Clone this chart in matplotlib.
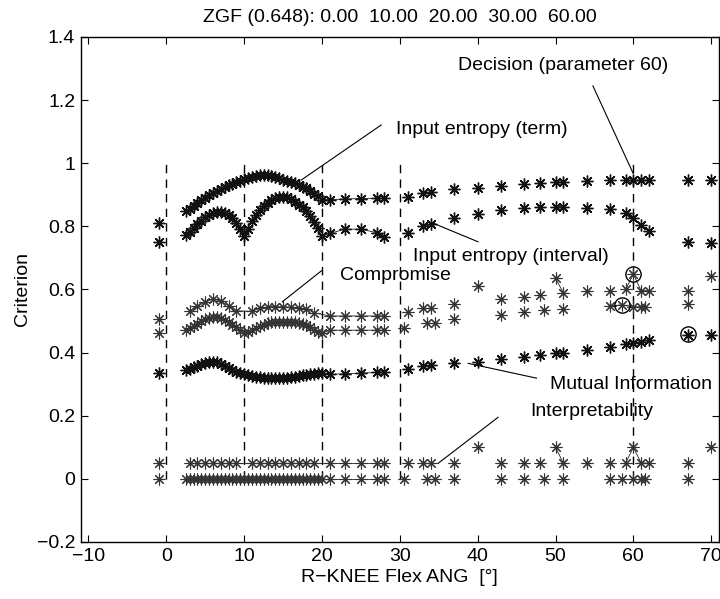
import matplotlib
matplotlib.use("Agg")
import matplotlib.pyplot as plt
import numpy as np

plt.rcParams['font.family'] = ['Liberation Sans', 'DejaVu Sans']
plt.rcParams['font.size'] = 14

# ---------------- data ----------------
title_text = "ZGF (0.648): 0.00  10.00  20.00  30.00  60.00"
x_label = "R\u2212KNEE Flex ANG  [\u00b0]"
y_label = "Criterion"
x_ticks = [-10, 0, 10, 20, 30, 40, 50, 60, 70]
y_ticks = [-0.2, 0, 0.2, 0.4, 0.6, 0.8, 1.0, 1.2, 1.4]
y_tick_labels = ["\u22120.2", "0", "0.2", "0.4", "0.6", "0.8", "1", "1.2", "1.4"]
zgf_positions = [0, 10, 20, 30, 60]

# dense grid (both models) left part
x_dense = [-1, 2.5, 3, 3.5, 4, 4.5, 5, 5.5, 6, 6.5, 7, 7.5, 8, 8.5, 9, 9.5, 10,
           10.5, 11, 11.5, 12, 12.5, 13, 13.5, 14, 14.5, 15, 15.5, 16, 16.5, 17,
           17.5, 18, 18.5, 19, 19.5, 20, 21, 23, 25, 27, 28]
# model A grid
x_a = [-1, 3, 4, 5, 6, 7, 8, 9, 11, 12, 13, 14, 15, 16, 17, 18, 19, 21, 23, 25, 27, 28,
       31, 33, 34, 37, 40, 43, 46, 48, 50, 51, 54, 57, 59, 60, 61, 62, 67, 70]
# model B sparse grid
x_b_sparse = [30.5, 33.5, 34.5, 37, 43, 46, 48.5, 51, 57, 58.5, 60, 61, 61.5, 67]
x_sparse = [31, 33, 34, 37, 40, 43, 46, 48, 50, 51, 54, 57, 59, 60, 61, 62, 67, 70]

entropy_term_dense = [0.812, 0.850, 0.856, 0.864, 0.873, 0.882, 0.891, 0.899, 0.906, 0.912,
                      0.918, 0.924, 0.930, 0.935, 0.940, 0.945, 0.949, 0.953, 0.957, 0.960,
                      0.962, 0.963, 0.962, 0.959, 0.956, 0.952, 0.948, 0.944, 0.940, 0.936,
                      0.932, 0.926, 0.920, 0.912, 0.904, 0.895, 0.885, 0.884, 0.887, 0.888,
                      0.889, 0.889]
entropy_term_sparse = [0.894, 0.905, 0.908, 0.917, 0.921, 0.928, 0.934, 0.938, 0.941, 0.941,
                       0.945, 0.947, 0.947, 0.947, 0.947, 0.947, 0.947, 0.947]

entropy_interval_dense = [0.749, 0.773, 0.782, 0.795, 0.806, 0.818, 0.829, 0.837, 0.842, 0.845,
                          0.845, 0.842, 0.836, 0.826, 0.812, 0.793, 0.768, 0.793, 0.817, 0.836,
                          0.852, 0.865, 0.875, 0.884, 0.890, 0.893, 0.894, 0.892, 0.886, 0.878,
                          0.868, 0.860, 0.850, 0.834, 0.815, 0.795, 0.768, 0.778, 0.791, 0.791,
                          0.780, 0.767]
entropy_interval_sparse = [0.778, 0.800, 0.806, 0.826, 0.839, 0.852, 0.859, 0.860, 0.862, 0.860,
                           0.857, 0.854, 0.841, 0.826, 0.804, 0.786, 0.751, 0.748]

compromise_a = [0.508, 0.532, 0.547, 0.560, 0.570, 0.563, 0.549, 0.532, 0.531, 0.540, 0.545,
                0.546, 0.545, 0.544, 0.542, 0.538, 0.526, 0.516, 0.516, 0.516, 0.516, 0.516,
                0.530, 0.540, 0.540, 0.554, 0.611, 0.569, 0.575, 0.582, 0.635, 0.590, 0.596,
                0.596, 0.600, 0.648, 0.596, 0.596, 0.596, 0.643]
compromise_b_dense = [0.461, 0.471, 0.478, 0.485, 0.492, 0.499, 0.505, 0.510, 0.513, 0.513,
                      0.510, 0.504, 0.497, 0.489, 0.480, 0.471, 0.462, 0.466, 0.472, 0.478,
                      0.484, 0.489, 0.493, 0.496, 0.498, 0.498, 0.498, 0.498, 0.497, 0.496,
                      0.494, 0.491, 0.487, 0.480, 0.472, 0.466, 0.461, 0.471, 0.471, 0.471,
                      0.471, 0.471]
compromise_b_sparse = [0.477, 0.495, 0.495, 0.505, 0.519, 0.530, 0.535, 0.537, 0.548, 0.551,
                       0.545, 0.545, 0.545, 0.554]

mutual_info_dense = [0.334, 0.345, 0.348, 0.353, 0.358, 0.363, 0.367, 0.370, 0.371, 0.369,
                     0.364, 0.357, 0.350, 0.344, 0.339, 0.335, 0.331, 0.328, 0.325, 0.323,
                     0.322, 0.321, 0.320, 0.320, 0.320, 0.320, 0.320, 0.321, 0.322, 0.324,
                     0.326, 0.328, 0.330, 0.332, 0.333, 0.334, 0.334, 0.331, 0.333, 0.335,
                     0.337, 0.339]
mutual_info_sparse = [0.347, 0.356, 0.360, 0.366, 0.371, 0.379, 0.385, 0.392, 0.398, 0.400,
                      0.408, 0.419, 0.427, 0.431, 0.434, 0.440, 0.456, 0.456]

interpretability_a = [0.05, 0.05, 0.05, 0.05, 0.05, 0.05, 0.05, 0.05, 0.05, 0.05, 0.05,
                      0.05, 0.05, 0.05, 0.05, 0.05, 0.05, 0.05, 0.05, 0.05, 0.05, 0.05,
                      0.05, 0.05, 0.05, 0.05, 0.10, 0.05, 0.05, 0.05, 0.10, 0.05, 0.05,
                      0.05, 0.05, 0.10, 0.05, 0.05, 0.05, 0.10]
interpretability_b_dense = [0.0] * 42
interpretability_b_sparse = [0.0] * 14

# selected (circled) points
circled_x = [60, 58.5, 67]
circled_y = [0.648, 0.551, 0.458]

# annotations: (text, text x, text y, line start, line end)
annotations = [
    ("Decision (parameter 60)", 51.0, 1.308, (54.8, 1.245), (59.97, 0.968)),
    ("Input entropy (term)", 40.5, 1.108, (27.6, 1.121), (17.35, 0.947)),
    ("Input entropy (interval)", 44.2, 0.706, (40.05, 0.751), (34.27, 0.810)),
    ("Compromise", 29.4, 0.644, (19.92, 0.659), (14.9, 0.561)),
    ("Mutual Information", 59.65, 0.300, (47.56, 0.319), (38.77, 0.366)),
    ("Interpretability", 54.67, 0.213, (42.62, 0.195), (34.91, 0.049)),
]

# ---------------- plot ----------------
fig = plt.figure(figsize=(7.2, 5.99), dpi=100)
ax = fig.add_axes([0.1121, 0.0952, 0.8865, 0.8431])

ast = (8, 2, 0)


def segments(xs, ys):
    xs = np.asarray(xs, float)
    ys = np.asarray(ys, float)
    order = np.argsort(xs, kind="stable")
    xs, ys = xs[order], ys[order]
    start = 0
    out = []
    for i in range(1, len(xs) + 1):
        brk = i == len(xs)
        if not brk:
            gap = xs[i] - xs[i - 1]
            if xs[i] <= 28.5:
                brk = gap > 2.05 or xs[i - 1] < 0
            else:
                brk = gap > 1.6
        if brk:
            out.append((xs[start:i], ys[start:i]))
            start = i
    return out


def draw(xs, ys, color, mew, ms=8.5):
    for sx, sy in segments(xs, ys):
        if len(sx) > 1:
            ax.plot(sx, sy, '-', color='#222222', lw=0.6, zorder=2)
    ax.plot(xs, ys, linestyle='none', marker=ast, ms=ms, mec=color, mfc=color,
            mew=mew, zorder=3)


for xz in zgf_positions:
    ax.plot([xz, xz], [0, 1], color='black', lw=1.0, dashes=(6, 4.5), zorder=1)

draw(x_dense, entropy_term_dense, '#111111', 1.0)
draw(x_sparse, entropy_term_sparse, '#111111', 1.0)
draw(x_dense, entropy_interval_dense, '#111111', 1.0)
draw(x_sparse, entropy_interval_sparse, '#111111', 1.0)
draw(x_a, compromise_a, '#333333', 0.8)
draw(x_dense, compromise_b_dense, '#333333', 0.8)
draw(x_b_sparse, compromise_b_sparse, '#333333', 0.8)
draw(x_dense, mutual_info_dense, '#111111', 1.0)
draw(x_sparse, mutual_info_sparse, '#111111', 1.0)
draw(x_a, interpretability_a, '#333333', 0.8)
draw(x_dense, interpretability_b_dense, '#333333', 0.8)
draw(x_b_sparse, interpretability_b_sparse, '#333333', 0.8)

ax.plot(circled_x, circled_y, linestyle='none', marker='o', ms=11, mfc='none',
        mec='black', mew=1.0, zorder=4)

for text, tx, ty, p0, p1 in annotations:
    ax.text(tx, ty, text, ha='center', va='center', fontsize=14, zorder=5)
    ax.plot([p0[0], p1[0]], [p0[1], p1[1]], color='black', lw=0.8, zorder=5)

ax.set_xlim(-11, 71)
ax.set_ylim(-0.2, 1.4)
ax.set_xticks(x_ticks)
ax.set_yticks(y_ticks)
ax.set_yticklabels(y_tick_labels)
ax.set_xticklabels([str(t).replace('-', '\u2212') for t in x_ticks])
ax.tick_params(direction='in', top=True, right=True, length=5, width=0.8,
               labelsize=14, pad=4)
for s in ax.spines.values():
    s.set_linewidth(1.0)

ax.set_title(title_text, fontsize=14, pad=11)
ax.set_xlabel(x_label, fontsize=14, labelpad=3)
ax.set_ylabel(y_label, fontsize=14, labelpad=4)

fig.savefig("out.png", dpi=100)
